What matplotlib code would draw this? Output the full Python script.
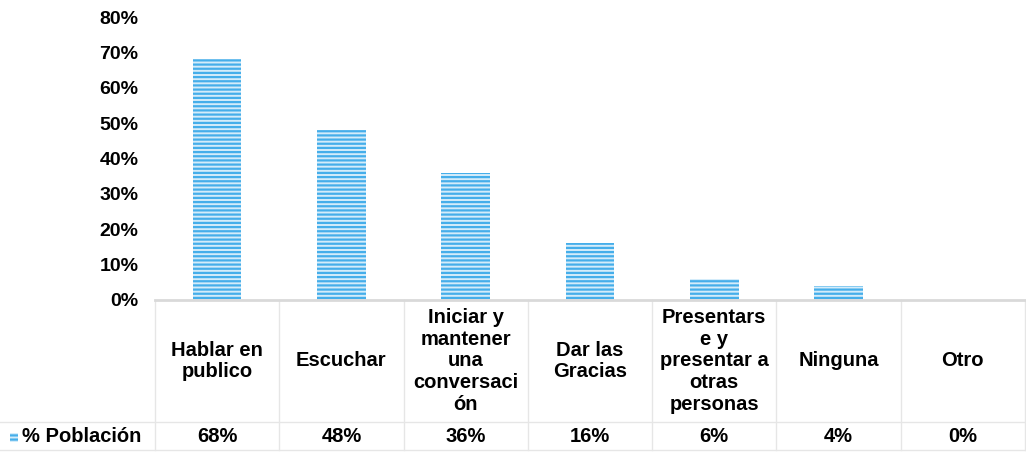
import matplotlib.pyplot as plt
import numpy as np

plt.rcParams['font.family'] = ['Liberation Sans', 'DejaVu Sans']
plt.rcParams['font.weight'] = 'bold'
plt.rcParams['hatch.linewidth'] = 1.6

categorias = ["Hablar en\npublico", "Escuchar", "Iniciar y\nmantener\nuna\nconversaci\nón",
              "Dar las\nGracias", "Presentars\ne y\npresentar a\notras\npersonas",
              "Ninguna", "Otro"]
valores = [68, 48, 36, 16, 6, 4, 0]
etiquetas = ["68%", "48%", "36%", "16%", "6%", "4%", "0%"]
serie = "% Población"

fs = 14.5

fig = plt.figure(figsize=(10.26, 4.54), dpi=100)
ax = fig.add_axes([155 / 1026, 1 - 300 / 454, 870 / 1026, 283 / 454])

x = np.arange(len(categorias))
ax.bar(x, valores, width=0.39, facecolor='#d4ecfa', edgecolor='#45aeea',
       linewidth=0, hatch='----')

ax.set_xlim(-0.5, len(categorias) - 0.5)
ax.set_ylim(0, 80)
ax.set_yticks(range(0, 81, 10))
ax.set_yticklabels([f"{v}%" for v in range(0, 81, 10)], fontsize=14, fontweight='bold')
ax.tick_params(axis='y', length=0, pad=12)
ax.set_xticks([])
for s in ['top', 'right', 'left']:
    ax.spines[s].set_visible(False)
ax.spines['bottom'].set_color('#d9d9d9')
ax.spines['bottom'].set_linewidth(2)

# table under the chart
fila = -122 / 283
fondo = -150 / 283
grid = '#e6e6e6'
tr = ax.get_xaxis_transform()
for b in np.arange(len(categorias) + 1) - 0.5:
    ax.plot([b, b], [0, fondo], color=grid, lw=1, transform=tr, clip_on=False)
ax.plot([-0.5 - 155 / 124.5, len(categorias) - 0.5], [fila, fila], color=grid, lw=1,
        transform=tr, clip_on=False)
ax.plot([-0.5 - 155 / 124.5, len(categorias) - 0.5], [fondo, fondo], color=grid, lw=1,
        transform=tr, clip_on=False)

for i, (c, e) in enumerate(zip(categorias, etiquetas)):
    ax.text(i, fila / 2, c, ha='center', va='center', fontsize=fs, fontweight='bold',
            linespacing=1.18, transform=tr)
    ax.text(i, (fila + fondo) / 2, e, ha='center', va='center', fontsize=fs,
            fontweight='bold', transform=tr)

# legend key
fig.patches.append(plt.Rectangle((10 / 1026, 1 - 442 / 454), 8 / 1026, 9 / 454,
                                 transform=fig.transFigure, facecolor='#d4ecfa',
                                 edgecolor='#45aeea', linewidth=0, hatch='----'))
fig.text(22 / 1026, 1 - 437 / 454, serie, ha='left', va='center', fontsize=fs,
         fontweight='bold')

fig.savefig('out.png', dpi=100)
